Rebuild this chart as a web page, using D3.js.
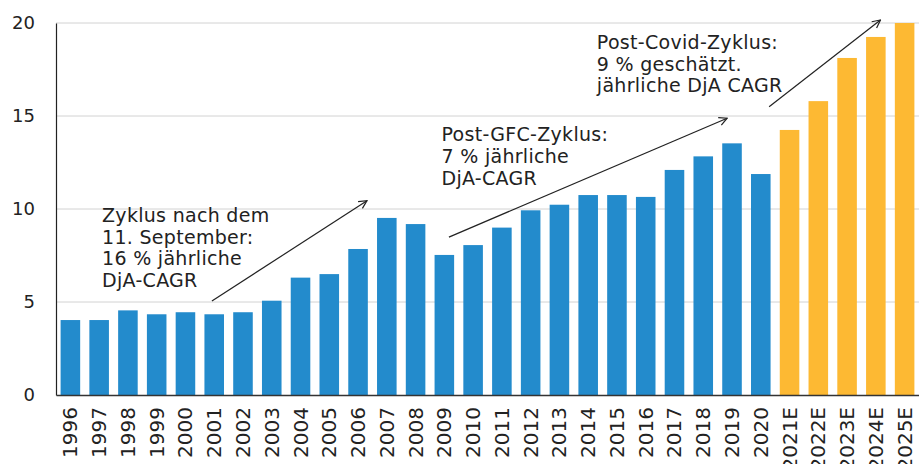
<!DOCTYPE html>
<html>
<head>
<meta charset="utf-8">
<script src="https://cdn.jsdelivr.net/npm/d3@7"></script>
<style>
  html, body { margin: 0; padding: 0; background: #fff; }
  svg text { font-family: "DejaVu Sans", sans-serif; fill: #222; }
</style>
</head>
<body>
<div class="chart"></div>
<script>
var years = ['1996', '1997', '1998', '1999', '2000', '2001', '2002', '2003', '2004', '2005',
    '2006', '2007', '2008', '2009', '2010', '2011', '2012', '2013', '2014', '2015',
    '2016', '2017', '2018', '2019', '2020', '2021E', '2022E', '2023E', '2024E', '2025E'];
var values = [4.03, 4.03, 4.55, 4.34, 4.45, 4.34, 4.45, 5.07, 6.31, 6.5,
    7.85, 9.52, 9.19, 7.53, 8.06, 9.0, 9.93, 10.23, 10.75, 10.75,
    10.65, 12.1, 12.83, 13.53, 11.88, 14.25, 15.8, 18.12, 19.25, 20.0];
var yTicks = [0, 5, 10, 15, 20];

// annotation arrows: [from index, from value, to index, to value]
var arrows = [
    [4.92, 5.05, 10.31, 10.45],
    [13.16, 8.49, 22.83, 14.88],
    [24.29, 15.5, 28.16, 20.16]
];
var notes = [
    { at: 1.1, val: 9.3, lines: ['Zyklus nach dem', '11. September:', '16 % jährliche', 'DjA-CAGR'] },
    { at: 12.9, val: 13.65, lines: ['Post-GFC-Zyklus:', '7 % jährliche', 'DjA-CAGR'] },
    { at: 18.3, val: 18.6, lines: ['Post-Covid-Zyklus:', '9 % geschätzt.', 'jährliche DjA CAGR'] }
];

var width = 919, height = 464;
var margin = { top: 23, right: 0, bottom: 69, left: 56 };

var svg = d3.select('.chart').append('svg')
    .attr('width', width)
    .attr('height', height);

var x = d3.scaleBand()
    .domain(years)
    .range([margin.left, width - margin.right])
    .paddingInner(0.32)
    .paddingOuter(0.16);

var y = d3.scaleLinear()
    .domain([0, 20])
    .range([height - margin.bottom, margin.top]);

// index -> bar centre, for the annotations
var xi = d3.scaleLinear()
    .domain([0, 1])
    .range([x(years[0]) + x.bandwidth() / 2, x(years[1]) + x.bandwidth() / 2]);

// grid
svg.append('g').selectAll('line')
    .data(yTicks.slice(1))
    .enter().append('line')
    .attr('x1', margin.left)
    .attr('x2', width)
    .attr('y1', function(d) { return y(d); })
    .attr('y2', function(d) { return y(d); })
    .attr('stroke', '#d2d2d2')
    .attr('stroke-width', 1);

// bars
svg.append('g').selectAll('rect')
    .data(years)
    .enter().append('rect')
    .attr('x', function(d) { return x(d); })
    .attr('width', x.bandwidth())
    .attr('y', function(d, i) { return y(values[i]); })
    .attr('height', function(d, i) { return y(0) - y(values[i]); })
    .attr('fill', function(d) { return d.indexOf('E') > 0 ? '#fdb933' : '#238bcc'; });

// y axis
var yAxis = svg.append('g')
    .attr('transform', 'translate(' + margin.left + ',0)')
    .call(d3.axisLeft(y).tickValues(yTicks).tickSize(0).tickPadding(21));
yAxis.select('.domain').attr('stroke', '#222').attr('stroke-width', 1.2);
yAxis.selectAll('text').attr('font-size', '18px').attr('fill', '#222')
    .attr('font-family', '"DejaVu Sans", sans-serif');

// x axis
var xAxis = svg.append('g')
    .attr('transform', 'translate(0,' + y(0) + ')')
    .call(d3.axisBottom(x).tickSize(0).tickPadding(0));
xAxis.select('.domain').attr('stroke', '#333').attr('stroke-width', 1.5);
xAxis.selectAll('text')
    .attr('font-size', '20px')
    .attr('fill', '#222')
    .attr('font-family', '"DejaVu Sans", sans-serif')
    .attr('transform', 'rotate(-90)')
    .attr('text-anchor', 'end')
    .attr('x', -12)
    .attr('y', 0)
    .attr('dy', '0.35em');

// arrows
svg.append('defs').append('marker')
    .attr('id', 'head')
    .attr('viewBox', '0 0 10 10')
    .attr('refX', 9)
    .attr('refY', 5)
    .attr('markerWidth', 10)
    .attr('markerHeight', 10)
    .attr('markerUnits', 'userSpaceOnUse')
    .attr('orient', 'auto')
    .append('path')
    .attr('d', 'M1,1 L9,5 L1,9')
    .attr('fill', 'none')
    .attr('stroke', '#222')
    .attr('stroke-width', 1.2);

svg.append('g').selectAll('line')
    .data(arrows)
    .enter().append('line')
    .attr('x1', function(d) { return xi(d[0]); })
    .attr('y1', function(d) { return y(d[1]); })
    .attr('x2', function(d) { return xi(d[2]); })
    .attr('y2', function(d) { return y(d[3]); })
    .attr('stroke', '#222')
    .attr('stroke-width', 1.2)
    .attr('marker-end', 'url(#head)');

// notes
var note = svg.append('g').selectAll('text')
    .data(notes)
    .enter().append('text')
    .attr('x', function(d) { return xi(d.at); })
    .attr('y', function(d) { return y(d.val); })
    .attr('font-size', '19px')
    .attr('letter-spacing', '0.3px');
note.selectAll('tspan')
    .data(function(d) { return d.lines.map(function(l) { return { l: l, x: xi(d.at) }; }); })
    .enter().append('tspan')
    .attr('x', function(d) { return d.x; })
    .attr('dy', function(d, i) { return i ? 21.7 : 0; })
    .text(function(d) { return d.l; });
</script>
</body>
</html>
